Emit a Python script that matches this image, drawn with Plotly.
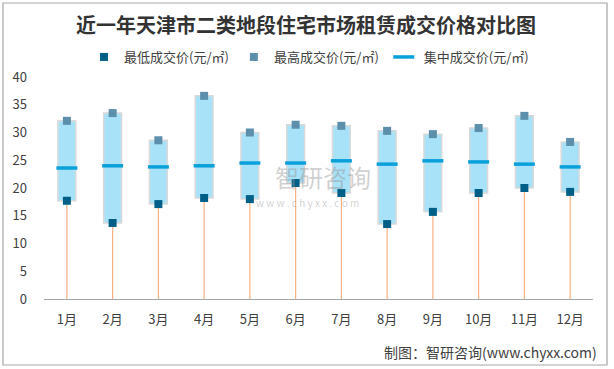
import plotly.graph_objects as go

months = ["1月", "2月", "3月", "4月", "5月", "6月", "7月", "8月", "9月", "10月", "11月", "12月"]
low_price = [17.7, 13.7, 17.1, 18.2, 18.0, 20.9, 19.1, 13.5, 15.7, 19.1, 20.0, 19.3]
high_price = [32.1, 33.5, 28.6, 36.6, 30.0, 31.4, 31.2, 30.3, 29.7, 30.8, 33.0, 28.3]
mid_price = [23.6, 24.0, 23.8, 24.0, 24.5, 24.5, 24.9, 24.3, 24.9, 24.7, 24.3, 23.8]
y_ticks = [0, 5, 10, 15, 20, 25, 30, 35, 40]

FONT = "Noto Sans CJK SC"

fig = go.Figure()

# orange stems from 0 to the low price
stem_x, stem_y = [], []
for m, lo in zip(months, low_price):
    stem_x += [m, m, None]
    stem_y += [0, lo, None]
fig.add_trace(go.Scatter(x=stem_x, y=stem_y, mode="lines",
                         line=dict(color="#F4B183", width=1.2),
                         showlegend=False, hoverinfo="skip"))

# range boxes
fig.add_trace(go.Bar(x=months, y=[h - l for h, l in zip(high_price, low_price)],
                     base=low_price, width=0.39,
                     marker=dict(color="#A8E2F9", line=dict(color="#D9D9D9", width=1.5)),
                     showlegend=False, hoverinfo="skip"))

fig.add_trace(go.Scatter(x=months, y=low_price, mode="markers", name="最低成交价(元/㎡)",
                         marker=dict(symbol="square", size=8, color="#005F87")))
fig.add_trace(go.Scatter(x=months, y=high_price, mode="markers", name="最高成交价(元/㎡)",
                         marker=dict(symbol="square", size=8, color="#5B8FAB")))
fig.add_trace(go.Scatter(x=months, y=mid_price, mode="markers", name="集中成交价(元/㎡)",
                         marker=dict(symbol="line-ew", size=15,
                                     line=dict(color="#0AA0DA", width=3.5))))

L, R, T, B = 44, 21, 77, 70
W, H = 614, 369
pw, ph = W - L - R, H - T - B

def px_x(p):
    return (p - L) / pw

def px_y(p):
    return (H - B - p) / ph

fig.update_layout(
    width=W, height=H,
    margin=dict(l=L, r=R, t=T, b=B, autoexpand=False),
    paper_bgcolor="white", plot_bgcolor="white",
    font=dict(family=FONT, color="#404040", size=13),
    title=dict(text="<b>近一年天津市二类地段住宅市场租赁成交价格对比图</b>",
               x=px_x(306), xref="paper", xanchor="center",
               y=1 - 25.5 / H, yanchor="middle", yref="container",
               font=dict(family=FONT, size=20, color="#333333")),
    legend=dict(orientation="h", x=px_x(309), xanchor="center", xref="paper",
                y=1 - 57 / H, yref="container", yanchor="middle",
                font=dict(size=13, color="#404040"), itemwidth=30,
                traceorder="normal"),
    barmode="overlay",
    showlegend=True,
    xaxis=dict(type="category", range=[-0.5, 11.5], showgrid=False,
               showline=True, linecolor="#A6A6A6", linewidth=1.3,
               ticks="", tickfont=dict(size=13, color="#404040"),
               ticklabelstandoff=8, fixedrange=True, automargin=False),
    yaxis=dict(range=[0, 40], tickvals=y_ticks, showgrid=False, zeroline=False,
               showline=False, ticks="", tickfont=dict(size=13, color="#404040"),
               ticklabelstandoff=16, fixedrange=True, automargin=False),
    shapes=[dict(type="rect", xref="paper", yref="paper",
                 x0=px_x(3), x1=px_x(607), y0=px_y(365), y1=px_y(3),
                 line=dict(color="#A6A6A6", width=1.2), fillcolor="rgba(0,0,0,0)",
                 layer="below")],
    annotations=[
        dict(text="制图：智研咨询(www.chyxx.com)", xref="paper", yref="paper",
             x=px_x(599), y=px_y(352), xanchor="right", yanchor="middle",
             showarrow=False, font=dict(size=14, color="#404040")),
        dict(text="智研咨询", xref="paper", yref="paper",
             x=px_x(323), y=px_y(176), xanchor="center", yanchor="middle",
             showarrow=False, font=dict(size=24, color="rgba(150,150,150,0.45)")),
        dict(text="w w w . c h y x x . c o m", xref="paper", yref="paper",
             x=px_x(307), y=px_y(202), xanchor="center", yanchor="middle",
             showarrow=False, font=dict(size=10, color="rgba(150,150,150,0.45)")),
    ],
)

fig.write_html("out.html", config={"displayModeBar": False},
               post_script="document.body.style.margin='0';document.body.style.overflow='hidden';")
